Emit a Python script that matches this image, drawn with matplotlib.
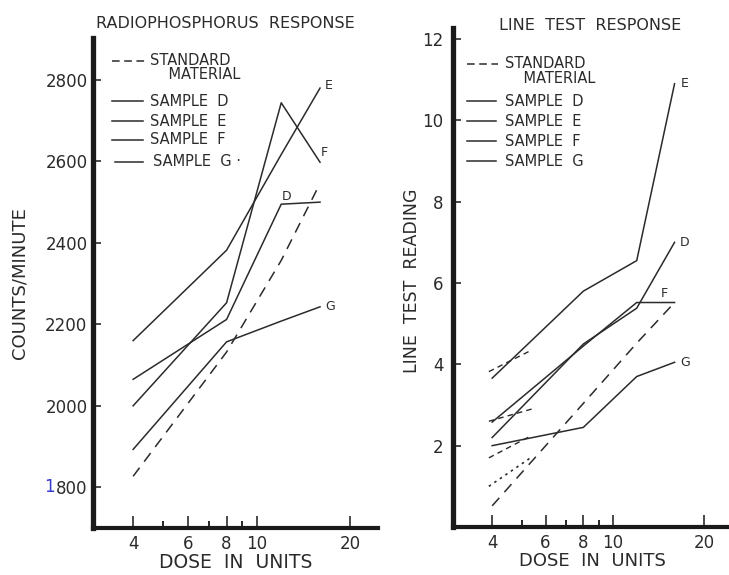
import matplotlib
matplotlib.use("Agg")
import matplotlib.pyplot as plt
from matplotlib.lines import Line2D
from matplotlib.ticker import NullFormatter

# doses (log axis)
dose = [4, 8, 12, 16]
tick_doses = [4, 6, 8, 10, 20]
tick_labels = ["4", "6", "8", "10", "20"]
minor_doses = [5, 7, 9]

# radiophosphorus response, counts/minute
rp_standard = [1827, 2132, 2357, 2546]
rp_d = [2065, 2212, 2495, 2500]
rp_e = [2160, 2382, 2617, 2780]
rp_f = [2000, 2253, 2744, 2598]
rp_g = [1893, 2157, 2208, 2243]
rp_yticks = [1800, 2000, 2200, 2400, 2600, 2800]

# line test response, reading
lt_standard = [0.52, 3.04, 4.52, 5.52]
lt_d = [2.2, 4.5, 5.38, 7.0]
lt_e = [3.66, 5.8, 6.55, 10.9]
lt_f = [2.58, 4.45, 5.52, 5.52]
lt_g = [2.0, 2.45, 3.7, 4.05]
lt_yticks = [2, 4, 6, 8, 10, 12]

# short extra standard segments near the low doses (right panel)
seg_dose = [3.9, 5.4]
seg_a = [3.82, 4.35]
seg_b = [2.6, 2.9]
seg_c = [1.7, 2.25]
seg_dots = [1.0, 1.72]

W, H = 729, 575
INK = "#2b2b2b"
plt.rcParams["font.family"] = ["DejaVu Sans"]
plt.rcParams["text.color"] = INK


def fx(x):
    return x / W


def fy(y):
    return 1 - y / H


def setup(ax, xlim, ylim, yticks, ypad):
    ax.set_xscale("log")
    ax.set_xlim(*xlim)
    ax.set_ylim(*ylim)
    ax.set_xticks(tick_doses, labels=tick_labels)
    ax.set_xticks(minor_doses, minor=True)
    ax.xaxis.set_minor_formatter(NullFormatter())
    ax.set_yticks(yticks)
    ax.tick_params(axis="x", which="major", direction="in", length=9, width=1.2,
                   labelsize=12, pad=5, colors=INK)
    ax.tick_params(axis="x", which="minor", direction="in", length=5, width=1.2)
    ax.tick_params(axis="y", direction="in", length=6, width=1.2,
                   labelsize=12, pad=ypad, colors=INK)
    for s in ["top", "right"]:
        ax.spines[s].set_visible(False)
    ax.spines["left"].set_linewidth(3.8)
    ax.spines["bottom"].set_linewidth(3.0)
    ax.spines["left"].set_color("#1a1a1a")
    ax.spines["bottom"].set_color("#1a1a1a")


def label_end(ax, text, x, y, dx, dy):
    # dx, dy in pixels, dy positive = up
    ax.annotate(text, xy=(x, y), xytext=(dx * 0.72, dy * 0.72),
                textcoords="offset points", ha="center", va="center",
                fontsize=9, color=INK)


def legend(x0, x1, xt, ys, ym, rows, g_shift=0):
    fig.add_artist(Line2D([fx(x0), fx(x1)], [fy(ys), fy(ys)], transform=fig.transFigure,
                          color=INK, lw=1.1, dashes=(5, 3)))
    fig.text(fx(xt), fy((ys + ym) / 2), "STANDARD\n    MATERIAL", fontsize=10.5,
             va="center", linespacing=0.95)
    for i, (name, y) in enumerate(rows):
        shift = g_shift if i == len(rows) - 1 else 0
        fig.add_artist(Line2D([fx(x0 + shift), fx(x1 - 2)], [fy(y), fy(y)],
                              transform=fig.transFigure, color=INK, lw=1.1))
        fig.text(fx(xt + shift), fy(y), name, fontsize=10.5, va="center")


fig = plt.figure(figsize=(W / 100, H / 100), dpi=100)

# left panel: radiophosphorus
ax1 = fig.add_axes([fx(93), fy(528), fx(378 - 93), (528 - 38) / H])
setup(ax1, (2.97, 24.6), (1700, 2903), rp_yticks, 4)
ax1.plot(dose, rp_standard, color=INK, lw=1.1, dashes=(7, 5))
for ys in [rp_d, rp_e, rp_f, rp_g]:
    ax1.plot(dose, ys, color=INK, lw=1.1)
# the "1" of 1800 is blue on the scan
ax1.set_yticks(rp_yticks, labels=["800"] + [str(v) for v in rp_yticks[1:]])
ax1.annotate("1", xy=(0, 1800), xycoords=("axes fraction", "data"),
             xytext=(-38 * 0.72, 0), textcoords="offset points",
             ha="right", va="center", fontsize=12, color="#3a3ad0")
label_end(ax1, "E", dose[-1], rp_e[-1], 9, 3)
label_end(ax1, "F", dose[-1], rp_f[-1], 4, 10)
label_end(ax1, "D", dose[2], rp_d[2], 5, 8)
label_end(ax1, "G", dose[-1], rp_g[-1], 10, 0)

# right panel: line test
ax2 = fig.add_axes([fx(453), fy(527), fx(W - 453), (527 - 28) / H])
setup(ax2, (2.97, 24.2), (0, 12.27), lt_yticks, 7)
ax2.plot(dose, lt_standard, color=INK, lw=1.1, dashes=(7, 5))
for ys in [lt_d, lt_e, lt_f, lt_g]:
    ax2.plot(dose, ys, color=INK, lw=1.1)
for ys in [seg_a, seg_b, seg_c]:
    ax2.plot(seg_dose, ys, color=INK, lw=1.0, dashes=(4, 3))
ax2.plot(seg_dose, seg_dots, color=INK, lw=1.2, dashes=(1.5, 2.5))
label_end(ax2, "E", dose[-1], lt_e[-1], 10, 0)
label_end(ax2, "D", dose[-1], lt_d[-1], 10, 0)
label_end(ax2, "F", dose[-1], lt_f[-1], -10, 9)
label_end(ax2, "G", dose[-1], lt_g[-1], 11, 0)

# titles and axis labels
fig.text(fx(225), fy(23), "RADIOPHOSPHORUS  RESPONSE", fontsize=11.5, ha="center", va="center")
fig.text(fx(590), fy(25), "LINE  TEST  RESPONSE", fontsize=11.5, ha="center", va="center")
fig.text(fx(20), fy(283), "COUNTS/MINUTE", fontsize=13, rotation=90, ha="center", va="center")
fig.text(fx(412), fy(281), "LINE  TEST  READING", fontsize=12.5, rotation=90, ha="center", va="center")
fig.text(fx(236), fy(563), "DOSE  IN  UNITS", fontsize=13.5, ha="center", va="center")
fig.text(fx(592), fy(561), "DOSE  IN  UNITS", fontsize=13, ha="center", va="center")

# hand drawn legends
legend(112, 145, 150, 61, 74,
       [("SAMPLE  D", 101), ("SAMPLE  E", 121), ("SAMPLE  F", 140), ("SAMPLE  G ·", 162)], g_shift=3)
legend(467, 498, 505, 64, 78,
       [("SAMPLE  D", 101), ("SAMPLE  E", 121), ("SAMPLE  F", 141), ("SAMPLE  G", 161)])

fig.savefig("out.png", dpi=100, facecolor="white")
